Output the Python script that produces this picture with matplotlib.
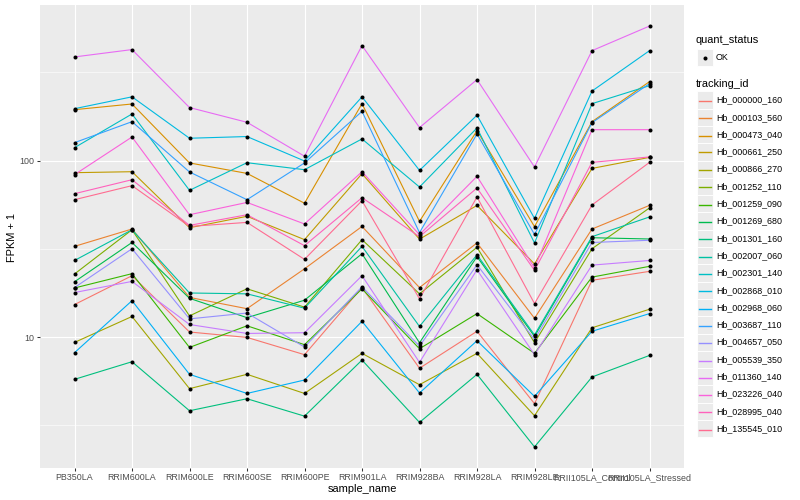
import matplotlib

matplotlib.use("Agg")
import matplotlib.pyplot as plt
from matplotlib.lines import Line2D
from matplotlib.patches import Rectangle

plt.rcParams["font.family"] = ["Liberation Sans", "DejaVu Sans"]

# x categories (sample_name)
samples = [
    "PB350LA", "RRIM600LA", "RRIM600LE", "RRIM600SE", "RRIM600PE", "RRIM901LA",
    "RRIM928BA", "RRIM928LA", "RRIM928LE", "RRII105LA_Control", "RRII105LA_Stressed",
]

# FPKM + 1 per tracking_id, one value per sample
hb_000000_160 = [15.3, 22.3, 10.7, 9.97, 7.96, 19.1, 6.67, 10.8, 4.2, 21.0, 23.6]
hb_000103_560 = [32.7, 41.0, 16.8, 14.5, 24.4, 42.4, 19.1, 34.2, 12.8, 41.0, 55.8]
hb_000473_040 = [194.5, 209.5, 97.1, 84.7, 57.4, 210.4, 45.3, 147.9, 42.3, 166.3, 280.3]
hb_000661_250 = [85.5, 86.6, 41.7, 48.4, 35.7, 84.4, 35.9, 55.8, 26.0, 90.4, 104.4]
hb_000866_270 = [9.34, 13.1, 5.11, 6.16, 4.80, 8.1, 5.38, 8.1, 3.59, 11.3, 14.4]
hb_001252_110 = [22.8, 40.6, 13.2, 18.8, 14.8, 35.7, 17.6, 32.3, 9.3, 31.7, 54.0]
hb_001259_090 = [19.0, 22.9, 8.75, 11.6, 9.07, 18.8, 8.6, 13.6, 8.1, 21.9, 25.2]
hb_001269_680 = [20.6, 34.4, 16.6, 12.9, 16.2, 29.7, 9.3, 28.6, 10.1, 36.6, 36.0]
hb_001301_160 = [5.77, 7.26, 3.83, 4.48, 3.57, 7.42, 3.29, 6.16, 2.39, 5.95, 7.88]
hb_002007_060 = [27.2, 40.6, 17.8, 17.6, 14.6, 32.7, 11.5, 29.3, 10.3, 37.1, 48.0]
hb_002301_140 = [118.5, 183.9, 67.9, 97.4, 88.9, 132.8, 70.9, 153.2, 34.2, 210.4, 266.1]
hb_002868_010 = [197.0, 230.0, 134.0, 137.0, 99.6, 230.0, 88.1, 181.0, 47.1, 248.0, 420.0]
hb_002968_060 = [8.17, 16.1, 6.16, 4.80, 5.72, 12.3, 4.83, 9.55, 4.62, 10.8, 13.6]
hb_003687_110 = [126.5, 166.3, 86.3, 60.1, 97.1, 190.3, 39.1, 141.7, 38.2, 164.2, 273.1]
hb_004657_050 = [19.1, 31.7, 12.7, 13.7, 8.8, 19.3, 8.9, 25.7, 9.7, 34.4, 35.4]
hb_005539_350 = [17.9, 20.7, 11.8, 10.5, 10.6, 22.3, 7.2, 24.1, 7.96, 25.6, 27.2]
hb_011360_140 = [387.0, 426.0, 200.0, 165.0, 106.0, 449.0, 154.0, 288.0, 92.1, 420.0, 579.0]
hb_023226_040 = [83.3, 136.2, 49.4, 58.0, 43.8, 86.6, 38.1, 81.5, 24.7, 149.8, 149.8]
hb_028995_040 = [65.0, 78.0, 43.0, 49.4, 33.0, 61.7, 37.1, 70.0, 23.9, 97.8, 105.0]
hb_135545_010 = [60.1, 72.2, 42.4, 44.7, 27.6, 59.3, 16.5, 62.3, 15.5, 56.1, 97.8]

tracking_ids = [
    "Hb_000000_160", "Hb_000103_560", "Hb_000473_040", "Hb_000661_250", "Hb_000866_270",
    "Hb_001252_110", "Hb_001259_090", "Hb_001269_680", "Hb_001301_160", "Hb_002007_060",
    "Hb_002301_140", "Hb_002868_010", "Hb_002968_060", "Hb_003687_110", "Hb_004657_050",
    "Hb_005539_350", "Hb_011360_140", "Hb_023226_040", "Hb_028995_040", "Hb_135545_010",
]
series = [
    hb_000000_160, hb_000103_560, hb_000473_040, hb_000661_250, hb_000866_270,
    hb_001252_110, hb_001259_090, hb_001269_680, hb_001301_160, hb_002007_060,
    hb_002301_140, hb_002868_010, hb_002968_060, hb_003687_110, hb_004657_050,
    hb_005539_350, hb_011360_140, hb_023226_040, hb_028995_040, hb_135545_010,
]
# ggplot default hue palette for 20 levels
colors = [
    "#F8766D", "#EA8331", "#D89000", "#C09B00", "#A3A500", "#7CAE00", "#39B600",
    "#00BB4E", "#00BF7D", "#00C1A3", "#00BFC4", "#00BAE0", "#00B0F6", "#35A2FF",
    "#9590FF", "#C77CFF", "#E76BF3", "#FA62DB", "#FF62BC", "#FF6C91",
]

W, H = 800, 500
fig = plt.figure(figsize=(W / 100, H / 100), dpi=100)
px = lambda x, y: (x / W, 1 - y / H)  # pixel -> figure fraction

left, right, top, bottom = 40, 684, 5, 468
ax = fig.add_axes([left / W, 1 - bottom / H, (right - left) / W, (bottom - top) / H])
ax.set_facecolor("#EBEBEB")
for s in ax.spines.values():
    s.set_visible(False)

xpos = list(range(1, len(samples) + 1))
for vals, col in zip(series, colors):
    ax.plot(xpos, vals, "-", color=col, lw=0.8, zorder=2)
for vals in series:
    ax.plot(xpos, vals, "o", color="black", ms=2.9, mec="black", mew=0, zorder=3)

ax.set_yscale("log")
ax.set_ylim(1.815, 762)
ax.set_xlim(0.4, len(samples) + 0.6)
ax.set_yticks([10, 100])
ax.set_yticklabels(["10", "100"])
ax.set_yticks([10 ** 0.5, 10 ** 1.5, 10 ** 2.5], minor=True)
ax.set_yticklabels([], minor=True)
ax.set_xticks(xpos)
ax.set_xticklabels(samples)
ax.tick_params(axis="both", which="major", length=2.0, width=0.75, color="#333333",
               labelsize=6.4, labelcolor="#4D4D4D", pad=1.8)
ax.tick_params(axis="both", which="minor", length=0)
ax.grid(True, which="major", color="white", lw=0.8, zorder=0)
ax.grid(True, which="minor", axis="y", color="white", lw=0.4, zorder=0)
ax.set_axisbelow(True)

fig.text(*px(362, 489), "sample_name", ha="center", va="center", fontsize=7.9)
fig.text(*px(12, 237), "FPKM + 1", ha="center", va="center", fontsize=7.9, rotation=90)

# legend: quant_status
fig.text(*px(696, 40), "quant_status", ha="left", va="center", fontsize=7.9)
kx, kw, kh = 697, 16, 17.3
fig.add_artist(Rectangle(px(kx, 49 + kh), kw / W, kh / H, transform=fig.transFigure,
                         facecolor="#EBEBEB", edgecolor="white", lw=0.6, zorder=1))
fig.add_artist(Line2D([px(kx + kw / 2, 0)[0]], [px(0, 57.5)[1]], marker="o", ms=2.9,
                      color="black", mew=0, transform=fig.transFigure, zorder=3))
fig.text(*px(716, 57.5), "OK", ha="left", va="center", fontsize=6.4)

# legend: tracking_id
fig.text(*px(696, 84), "tracking_id", ha="left", va="center", fontsize=7.9)
y0 = 100
for i, (tid, col) in enumerate(zip(tracking_ids, colors)):
    yc = y0 + i * kh
    fig.add_artist(Rectangle(px(kx, yc + kh / 2), kw / W, kh / H, transform=fig.transFigure,
                             facecolor="#EBEBEB", edgecolor="white", lw=0.6, zorder=1))
    xa, ya = px(kx + 2, round(yc) + 0.5)
    xb, _ = px(kx + kw - 2, yc)
    fig.add_artist(Line2D([xa, xb], [ya, ya], color=col, lw=1.0, transform=fig.transFigure,
                          zorder=3))
    fig.text(*px(716, yc), tid, ha="left", va="center", fontsize=6.4)

fig.savefig("out.png", dpi=100)
